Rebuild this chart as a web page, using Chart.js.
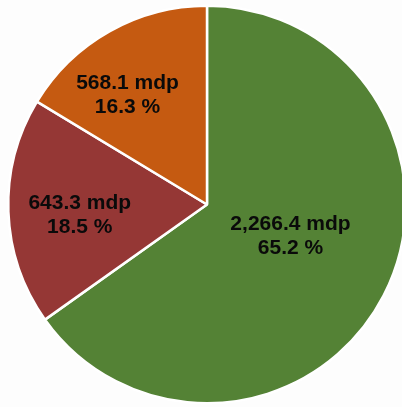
<!DOCTYPE html>
<html>
<head>
<meta charset="utf-8">
<script src="https://cdn.jsdelivr.net/npm/chart.js@4/dist/chart.umd.min.js"></script>
<style>
  html, body { margin: 0; padding: 0; background: #fdfdfd; overflow: hidden; }
  #wrap { position: absolute; left: 0; top: 0; width: 407px; height: 408px; }
</style>
</head>
<body>
<div id="wrap"><canvas id="pie"></canvas></div>
<script>
// Datos del gráfico
const categorias = ['Verde', 'Rojo', 'Naranja'];
const valores = [2266.4, 643.3, 568.1];
const colores = ['#548235', '#953735', '#c55a11'];

// posición de etiquetas (fracción del radio, relativo al centro)
const posEtiquetas = [[0.42, 0.16], [-0.64, 0.055], [-0.40, -0.55]];

const total = valores.reduce((a, b) => a + b, 0);

const etiquetasPlugin = {
    id: 'etiquetas',
    afterDatasetsDraw(chart) {
        const ctx = chart.ctx;
        const meta = chart.getDatasetMeta(0);
        ctx.save();
        ctx.font = 'bold 21px "Liberation Sans", Arial, sans-serif';
        ctx.fillStyle = '#0a0a0a';
        ctx.textAlign = 'center';
        ctx.textBaseline = 'middle';
        meta.data.forEach((arc, i) => {
            const r = arc.outerRadius;
            const x = arc.x + posEtiquetas[i][0] * r;
            const y = arc.y + posEtiquetas[i][1] * r;
            const v = valores[i].toLocaleString('en-US', { minimumFractionDigits: 1, maximumFractionDigits: 1 });
            const p = (valores[i] / total * 100).toFixed(1);
            ctx.fillText(v + ' mdp', x, y - 12);
            ctx.fillText(p + ' %', x, y + 12);
        });
        ctx.restore();
    }
};

new Chart(document.getElementById('pie'), {
    type: 'pie',
    data: {
        labels: categorias,
        datasets: [{
            data: valores,
            backgroundColor: colores,
            borderColor: '#ffffff',
            borderWidth: 2.5
        }]
    },
    options: {
        responsive: true,
        maintainAspectRatio: false,
        animation: false,
        layout: { padding: { left: 7, right: 0, top: 4, bottom: 3 } },
        plugins: {
            legend: { display: false },
            tooltip: { enabled: false }
        }
    },
    plugins: [etiquetasPlugin]
});
</script>
</body>
</html>
